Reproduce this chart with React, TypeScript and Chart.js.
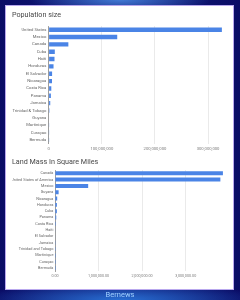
import React, { useEffect, useRef } from "react";
import { Chart, registerables } from "chart.js";

Chart.register(...registerables);

const popTitle = "Population size";
const popLabels = ["United States", "Mexico", "Canada", "Cuba", "Haiti", "Honduras", "El Salvador", "Nicaragua", "Costa Rica", "Panama", "Jamaica", "Trinidad & Tobago", "Guyana", "Martinique", "Curaçao", "Bermuda"];
const popValues = [326000000, 129000000, 37000000, 11500000, 10900000, 9100000, 6400000, 6200000, 4900000, 4100000, 2900000, 1400000, 780000, 380000, 160000, 65000];
const popMax = 330000000;
const popTicks = [0, 100000000, 200000000, 300000000];

const landTitle = "Land Mass In Square Miles";
const landLabels = ["Canada", "United States of America", "Mexico", "Guyana", "Nicaragua", "Honduras", "Cuba", "Panama", "Costa Rica", "Haiti", "El Salvador", "Jamaica", "Trinidad and Tobago", "Martinique", "Curaçao", "Bermuda"];
const landValues = [3855100, 3796742, 761610, 83000, 50336, 43278, 42426, 29120, 19730, 10714, 8124, 4244, 1981, 436, 171, 21];
const landMax = 3880000;
const landTicks = [0, 1000000, 2000000, 3000000];

const footer = "Bernews";

const FONT = "Roboto, 'Noto Sans', sans-serif";
const BAR = "#4a84e6";

type Cfg = {
  title: string;
  labels: string[];
  values: number[];
  max: number;
  ticks: number[];
  fmt: (v: number) => string;
  padLeft: number;
  yWidth: number;
  xHeight: number;
  labelSize: number;
  tickSize: number;
  titlePadTop: number;
  titlePadBottom: number;
  yPad: number;
  xPad: number;
  padRight: number;
  barFrac: number;
};

function BarChart({ cfg, style }: { cfg: Cfg; style: React.CSSProperties }) {
  const ref = useRef<HTMLCanvasElement | null>(null);
  useEffect(() => {
    if (!ref.current) return;
    const chart = new Chart(ref.current, {
      type: "bar",
      data: {
        labels: cfg.labels,
        datasets: [
          {
            data: cfg.values,
            backgroundColor: BAR,
            borderWidth: 0,
            barPercentage: 1,
            categoryPercentage: cfg.barFrac,
          },
        ],
      },
      options: {
        indexAxis: "y",
        animation: false,
        responsive: false,
        maintainAspectRatio: false,
        layout: { padding: { left: cfg.padLeft, right: cfg.padRight, top: 0, bottom: 0 } },
        plugins: {
          legend: { display: false },
          tooltip: { enabled: false },
          title: {
            display: true,
            text: cfg.title,
            align: "start",
            color: "#474747",
            font: { family: FONT, size: 7.2, weight: "normal" },
            padding: { top: cfg.titlePadTop, bottom: cfg.titlePadBottom },
          },
        },
        scales: {
          x: {
            min: 0,
            max: cfg.max,
            afterFit: (s: any) => {
              s.height = cfg.xHeight;
            },
            afterBuildTicks: (s: any) => {
              s.ticks = cfg.ticks.map((v) => ({ value: v }));
            },
            grid: { color: "#e4e4e4", lineWidth: 0.8, drawTicks: false },
            border: { display: false },
            ticks: {
              padding: cfg.xPad,
              color: "#7a7a7a",
              font: { family: FONT, size: cfg.tickSize },
              maxRotation: 0,
              autoSkip: false,
              callback: (v: any) => cfg.fmt(Number(v)),
            },
          },
          y: {
            afterFit: (s: any) => {
              s.width = cfg.yWidth;
            },
            grid: { display: false, drawTicks: false },
            border: { display: true, color: "#8a8a8a", width: 0.8 },
            ticks: {
              padding: cfg.yPad,
              color: "#666666",
              autoSkip: false,
              font: { family: FONT, size: cfg.labelSize },
            },
          },
        },
      },
    });
    return () => chart.destroy();
  }, []);
  return <canvas ref={ref} width={style.width as number} height={style.height as number} style={{ position: "absolute", ...style }} />;
}

const popCfg: Cfg = {
  title: popTitle,
  labels: popLabels,
  values: popValues,
  max: popMax,
  ticks: popTicks,
  fmt: (v) => v.toLocaleString("en-US"),
  padLeft: 6,
  yWidth: 36.7,
  xHeight: 8.5,
  labelSize: 4.2,
  tickSize: 4.2,
  titlePadTop: 5,
  titlePadBottom: 6.4,
  yPad: 2.4,
  xPad: 2.9,
  padRight: 9,
  barFrac: 0.6,
};

const landCfg: Cfg = {
  title: landTitle,
  labels: landLabels,
  values: landValues,
  max: landMax,
  ticks: landTicks,
  fmt: (v) => v.toLocaleString("en-US", { minimumFractionDigits: 2, maximumFractionDigits: 2 }),
  padLeft: 6,
  yWidth: 43,
  xHeight: 12.8,
  labelSize: 3.8,
  tickSize: 3.7,
  titlePadTop: 7.5,
  titlePadBottom: 4,
  yPad: 1.6,
  xPad: 2.3,
  padRight: 9,
  barFrac: 0.63,
};

export default function App() {
  return (
    <div
      style={{
        position: "fixed",
        left: 0,
        top: 0,
        width: 240,
        height: 300,
        overflow: "hidden",
        background:
          "radial-gradient(ellipse 90px 14px at 120px 0px, rgba(70,130,220,0.9), rgba(70,130,220,0) 100%), radial-gradient(ellipse 140px 18px at 120px 300px, rgba(40,110,210,1), rgba(40,110,210,0) 100%), linear-gradient(90deg, #0a0c66 0%, #12207e 50%, #0a0c66 100%)",
      }}
    >
      <div
        style={{
          position: "absolute",
          left: 5,
          top: 5,
          width: 227,
          height: 283,
          background: "#ffffff",
          border: "1.5px solid #b9a8ee",
        }}
      />
      <BarChart cfg={popCfg} style={{ left: 6, top: 6, width: 227, height: 146 }} />
      <BarChart cfg={landCfg} style={{ left: 6, top: 150, width: 227, height: 134 }} />
      <div
        style={{
          position: "absolute",
          left: 0,
          width: 240,
          top: 290,
          textAlign: "center",
          color: "#9fd0ff",
          fontFamily: FONT,
          fontSize: 7.5,
          lineHeight: "9px",
        }}
      >
        {footer}
      </div>
    </div>
  );
}
